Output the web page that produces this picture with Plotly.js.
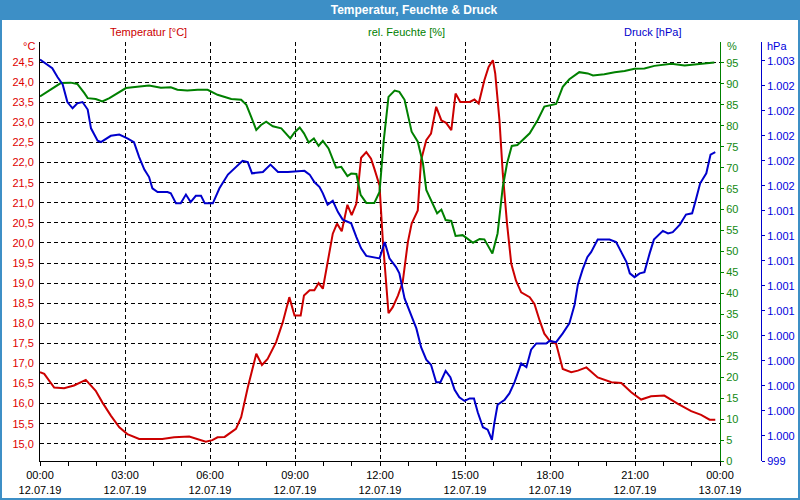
<!DOCTYPE html>
<html>
<head>
<meta charset="utf-8">
<script src="https://cdn.plot.ly/plotly-3.0.1.min.js"></script>
<style>html,body{margin:0;padding:0;background:#fff;}#chart{width:800px;height:500px;}</style>
</head>
<body>
<div id="chart"></div>
<script>
const DAY = "2019-07-12 ";

const tempTimes = ["00:00","00:09","00:30","00:51","01:12","01:37","01:58","02:12","02:30","02:48","03:05","03:30","04:19","04:44","05:16","05:34","05:51","06:05","06:16","06:31","06:55","07:06","07:20","07:38","07:50","08:02","08:20","08:34","08:48","08:59","09:12","09:19","09:31","09:41","09:50","09:59","10:09","10:20","10:29","10:39","10:51","11:00","11:10","11:14","11:20","11:31","11:41","11:48","11:59","12:06","12:13","12:18","12:27","12:38","12:48","12:59","13:07","13:20","13:27","13:38","13:48","13:59","14:10","14:20","14:31","14:40","14:50","15:10","15:20","15:29","15:41","15:50","15:59","16:04","16:13","16:20","16:29","16:38","16:48","16:59","17:17","17:27","17:38","17:48","17:59","18:13","18:27","18:45","18:59","19:17","19:41","20:10","20:31","20:52","21:13","21:34","22:02","22:31","22:59","23:20","23:38","23:50"];
const tempValues = [16.78,16.74,16.40,16.38,16.45,16.59,16.32,16.03,15.70,15.41,15.24,15.12,15.12,15.16,15.18,15.12,15.05,15.09,15.16,15.17,15.37,15.66,16.40,17.24,16.96,17.11,17.53,18.02,18.65,18.19,18.19,18.69,18.82,18.82,19.00,18.86,19.48,20.23,20.48,20.29,20.95,20.69,20.98,21.48,22.12,22.26,22.10,21.85,21.43,20.06,19.06,18.25,18.40,18.69,19.02,20.02,20.48,20.81,22.06,22.56,22.72,23.39,23.05,22.99,22.81,23.72,23.51,23.51,23.57,23.47,24.05,24.38,24.55,24.22,23.05,21.73,20.48,19.48,19.06,18.77,18.65,18.48,18.07,17.74,17.57,17.49,16.86,16.78,16.82,16.90,16.65,16.53,16.51,16.28,16.10,16.18,16.20,15.99,15.81,15.72,15.60,15.60];

const humTimes = ["00:00","00:23","00:44","01:05","01:19","01:34","01:41","01:58","02:12","02:27","02:44","03:02","03:26","03:51","04:16","04:37","04:51","05:12","05:34","05:55","06:16","06:45","07:06","07:17","07:27","07:38","07:48","07:59","08:13","08:31","08:50","08:59","09:10","09:19","09:29","09:40","09:50","09:59","10:11","10:27","10:38","10:51","10:59","11:10","11:19","11:31","11:48","11:59","12:08","12:18","12:31","12:41","12:52","13:07","13:20","13:31","13:38","13:52","14:01","14:10","14:19","14:31","14:40","14:55","15:17","15:31","15:41","15:58","16:09","16:20","16:29","16:39","16:51","17:17","17:34","17:48","18:13","18:27","18:41","19:02","19:20","19:31","19:55","20:17","20:38","20:59","21:20","21:41","22:17","22:45","23:20","23:48"];
const humValues = [87.0,88.7,90.2,90.3,90.0,87.8,86.6,86.4,85.8,86.6,87.8,89.0,89.3,89.6,89.1,89.2,88.6,88.4,88.6,88.6,87.4,86.4,86.2,85.0,82.2,79.0,80.2,81.0,79.9,79.4,77.0,78.4,79.6,78.2,76.0,77.0,75.2,76.4,74.6,70.0,70.2,68.0,68.6,68.5,63.5,61.6,61.6,64.2,76.6,86.9,88.4,88.1,86.2,78.6,76.2,71.0,64.7,61.5,59.1,60.0,57.5,57.3,53.7,53.9,52.1,53.0,52.9,49.5,54.3,65.4,71.0,75.2,75.4,78.2,81.4,84.6,85.2,89.3,91.1,92.8,92.5,92.0,92.3,92.8,93.1,93.6,93.7,94.3,94.8,94.4,94.7,95.1];

const presTimes = ["00:00","00:12","00:26","00:37","00:48","00:58","01:09","01:19","01:30","01:41","01:48","02:02","02:09","02:30","02:48","03:05","03:19","03:30","03:41","03:51","03:58","04:09","04:30","04:37","04:48","04:58","05:09","05:19","05:30","05:41","05:49","06:06","06:20","06:38","06:52","07:09","07:20","07:29","07:52","08:08","08:24","08:45","09:20","09:31","09:41","09:52","09:59","10:09","10:20","10:31","10:41","10:59","11:10","11:20","11:31","11:48","11:59","12:10","12:20","12:34","12:41","12:52","13:02","13:17","13:27","13:38","13:48","13:59","14:08","14:19","14:29","14:38","14:48","14:59","15:10","15:19","15:27","15:38","15:48","15:57","16:02","16:09","16:24","16:34","16:45","16:59","17:10","17:20","17:31","17:52","17:59","18:13","18:27","18:41","18:52","18:59","19:09","19:19","19:27","19:41","20:06","20:20","20:31","20:42","20:49","20:59","21:10","21:20","21:31","21:40","21:59","22:10","22:20","22:35","22:48","23:01","23:09","23:18","23:31","23:40","23:50"];
const presValues = [1002.61,1002.58,1002.54,1002.47,1002.41,1002.27,1002.22,1002.26,1002.27,1002.21,1002.06,1001.96,1001.95,1002.00,1002.01,1001.98,1001.95,1001.83,1001.73,1001.67,1001.58,1001.55,1001.55,1001.54,1001.46,1001.46,1001.53,1001.47,1001.52,1001.52,1001.46,1001.46,1001.58,1001.69,1001.74,1001.80,1001.79,1001.70,1001.71,1001.77,1001.71,1001.71,1001.72,1001.69,1001.63,1001.59,1001.54,1001.45,1001.48,1001.39,1001.33,1001.30,1001.19,1001.10,1001.04,1001.03,1001.02,1001.15,1001.02,1000.95,1000.90,1000.70,1000.61,1000.46,1000.31,1000.21,1000.17,1000.03,1000.03,1000.12,1000.07,999.97,999.91,999.88,999.90,999.90,999.79,999.67,999.65,999.57,999.70,999.85,999.89,999.94,1000.03,1000.18,1000.15,1000.29,1000.34,1000.34,1000.36,1000.35,1000.42,1000.50,1000.65,1000.81,1000.93,1001.03,1001.07,1001.17,1001.17,1001.15,1001.07,1000.99,1000.90,1000.87,1000.90,1000.91,1001.06,1001.17,1001.24,1001.22,1001.23,1001.29,1001.37,1001.38,1001.49,1001.62,1001.70,1001.85,1001.87];

const tempTickVals = [15,15.5,16,16.5,17,17.5,18,18.5,19,19.5,20,20.5,21,21.5,22,22.5,23,23.5,24,24.5,25];
const tempTickText = ["15,0","15,5","16,0","16,5","17,0","17,5","18,0","18,5","19,0","19,5","20,0","20,5","21,0","21,5","22,0","22,5","23,0","23,5","24,0","24,5",""];
const humTickVals = [0,5,10,15,20,25,30,35,40,45,50,55,60,65,70,75,80,85,90,95];
const presTickVals = [999.4,999.6,999.8,1000.0,1000.2,1000.4,1000.6,1000.8,1001.0,1001.2,1001.4,1001.6,1001.8,1002.0,1002.2,1002.4,1002.6];
const presTickText = ["999","1.000","1.000","1.000","1.000","1.000","1.001","1.001","1.001","1.001","1.001","1.002","1.002","1.002","1.002","1.002","1.003"];

const chartTitle = "Temperatur, Feuchte & Druck";
const seriesNames = ["Temperatur [°C]","rel. Feuchte [%]","Druck [hPa]"];
const unitLabels = ["°C","%","hPa"];

const RED = "#cc0000", GREEN = "#008000", BLUE = "#0000cc";
const FONT = "Tahoma, 'Liberation Sans', Arial, sans-serif";
const BAR = "#3d8fc6";

const toDate = a => a.map(t => DAY + t);

const W = 800, H = 500, L = 40, R = 39, T = 42, B = 39;
const pw = W - L - R, ph = H - T - B;
const px = x => (x - L) / pw;
const py = y => (H - B - y) / ph;

const traces = [
  {x: toDate(tempTimes), y: tempValues, type: "scatter", mode: "lines", name: seriesNames[0], line: {color: RED, width: 2}, yaxis: "y"},
  {x: toDate(humTimes), y: humValues, type: "scatter", mode: "lines", name: seriesNames[1], line: {color: GREEN, width: 2}, yaxis: "y2"},
  {x: toDate(presTimes), y: presValues, type: "scatter", mode: "lines", name: seriesNames[2], line: {color: BLUE, width: 2}, yaxis: "y3"}
];

const gridDash = "4px,3px";
const layout = {
  width: W, height: H,
  margin: {l: L, r: R, t: T, b: B, pad: 0},
  paper_bgcolor: "#ffffff", plot_bgcolor: "#ffffff",
  showlegend: false,
  font: {family: FONT, size: 11, color: "#000"},
  title: {text: chartTitle, font: {family: FONT, size: 12, color: "#ffffff", weight: "bold"}, x: 414 / W, xref: "container", xanchor: "center", y: 1 - 10 / H, yref: "container", yanchor: "middle"},
  xaxis: {
    type: "date", domain: [0, 680 / pw],
    range: ["2019-07-12 00:00", "2019-07-13 00:00"],
    tick0: "2019-07-12 00:00", dtick: 3 * 3600000,
    tickformat: "%H:%M<br>%d.%m.%y",
    showgrid: true, gridcolor: "#000", gridwidth: 1, griddash: gridDash,
    showline: true, linecolor: "#000", linewidth: 1,
    ticks: "outside", ticklen: 4, tickcolor: "#000",
    minor: {dtick: 3600000, ticks: "outside", ticklen: 4, tickcolor: "#000", showgrid: false},
    zeroline: false, tickfont: {family: FONT, size: 11, color: "#000"}, fixedrange: true
  },
  yaxis: {
    range: [14.57, 25.003],
    tickmode: "array", tickvals: tempTickVals, ticktext: tempTickText,
    showgrid: true, gridcolor: "#000", gridwidth: 1, griddash: gridDash,
    showline: true, linecolor: "#000", linewidth: 1,
    ticks: "", zeroline: false, ticklabelstandoff: 3,
    tickfont: {family: FONT, size: 11, color: "#dd0000"}
  },
  yaxis2: {
    overlaying: "y", side: "right", anchor: "x",
    range: [0, 100],
    tickmode: "array", tickvals: humTickVals,
    showgrid: false, showline: true, linecolor: GREEN, linewidth: 1,
    ticks: "outside", ticklen: 3, tickcolor: GREEN, zeroline: false,
    tickfont: {family: FONT, size: 11, color: "#118811"}
  },
  yaxis3: {
    overlaying: "y", side: "right", anchor: "free", position: 1,
    range: [999.4, 1002.75],
    tickmode: "array", tickvals: presTickVals, ticktext: presTickText,
    showgrid: false, showline: true, linecolor: BLUE, linewidth: 1,
    ticks: "outside", ticklen: 3, tickcolor: BLUE, zeroline: false,
    tickfont: {family: FONT, size: 11, color: "#0000dd"}
  },
  shapes: [
    {type: "rect", xref: "paper", yref: "paper", x0: px(0), x1: px(W), y0: py(0), y1: py(20), fillcolor: BAR, line: {width: 0}, layer: "below"},
    {type: "rect", xref: "paper", yref: "paper", x0: px(0), x1: px(W), y0: py(0), y1: py(H), fillcolor: "rgba(0,0,0,0)", line: {color: BAR, width: 4}, layer: "above"}
  ],
  annotations: [
    {text: seriesNames[0], xref: "paper", yref: "paper", x: px(148), y: py(32), showarrow: false, xanchor: "center", yanchor: "middle", font: {family: FONT, size: 11, color: RED}},
    {text: seriesNames[1], xref: "paper", yref: "paper", x: px(406), y: py(32), showarrow: false, xanchor: "center", yanchor: "middle", font: {family: FONT, size: 11, color: GREEN}},
    {text: seriesNames[2], xref: "paper", yref: "paper", x: px(652), y: py(32), showarrow: false, xanchor: "center", yanchor: "middle", font: {family: FONT, size: 11, color: BLUE}},
    {text: unitLabels[0], xref: "paper", yref: "paper", x: px(37), y: py(46), showarrow: false, xanchor: "right", yanchor: "middle", font: {family: FONT, size: 11, color: "#dd0000"}},
    {text: unitLabels[1], xref: "paper", yref: "paper", x: px(725), y: py(46), showarrow: false, xanchor: "left", yanchor: "middle", font: {family: FONT, size: 11, color: "#118811"}},
    {text: unitLabels[2], xref: "paper", yref: "paper", x: px(765), y: py(46), showarrow: false, xanchor: "left", yanchor: "middle", font: {family: FONT, size: 11, color: "#0000dd"}}
  ]
};

Plotly.newPlot("chart", traces, layout, {displayModeBar: false, staticPlot: true});
</script>
</body>
</html>
